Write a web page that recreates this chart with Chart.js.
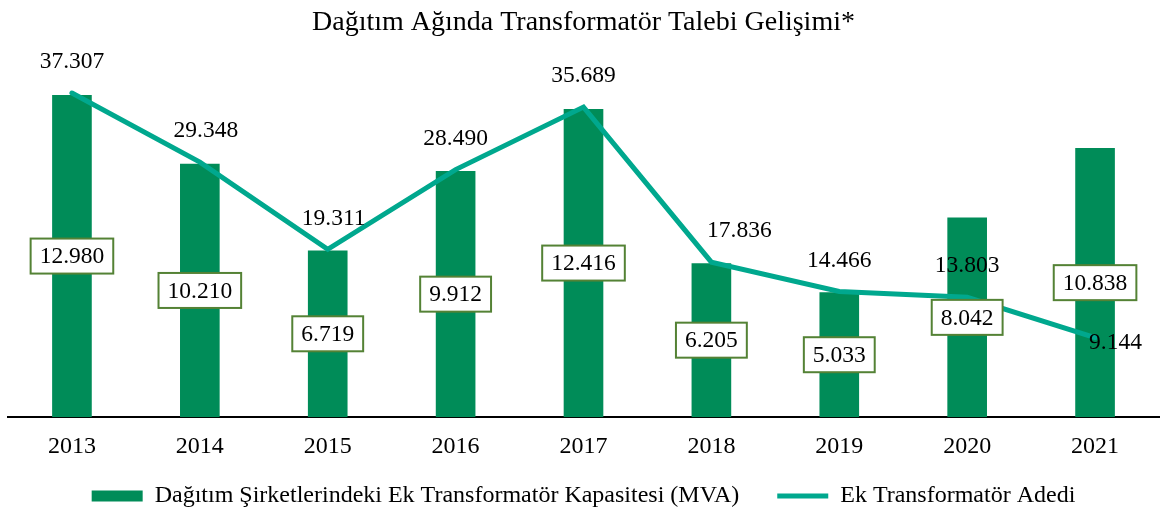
<!DOCTYPE html>
<html>
<head>
<meta charset="utf-8">
<script src="https://cdn.jsdelivr.net/npm/chart.js@4/dist/chart.umd.min.js"></script>
<style>
  html, body { margin: 0; padding: 0; background: #fff; }
  #wrap { width: 1163px; height: 516px; }
</style>
</head>
<body>
<div id="wrap"><canvas id="chart"></canvas></div>
<script>
// data
const years = ['2013', '2014', '2015', '2016', '2017', '2018', '2019', '2020', '2021'];
const capacityMVA = [12980, 10210, 6719, 9912, 12416, 6205, 5033, 8042, 10838];
const transformerCount = [37307, 29348, 19311, 28490, 35689, 17836, 14466, 13803, 9144];

const FONT = "'Liberation Serif', 'Times New Roman', serif";
const BAR_GREEN = '#008c58';
const LINE_TEAL = '#00a88e';

// Turkish number format: dot as thousands separator
function fmt(v) {
    return String(v).replace(/\B(?=(\d{3})+(?!\d))/g, '.');
}

// draw value labels: boxed labels in bar middles, plain labels above line points
const valueLabels = {
    id: 'valueLabels',
    afterDatasetsDraw(chart) {
        const ctx = chart.ctx;
        ctx.save();
        ctx.font = '23.5px ' + FONT;
        ctx.textBaseline = 'middle';

        // line labels
        const lineMeta = chart.getDatasetMeta(1);
        lineMeta.data.forEach((pt, i) => {
            const text = fmt(transformerCount[i]);
            ctx.fillStyle = '#000';
            if (i === lineMeta.data.length - 1) {
                ctx.textAlign = 'left';
                ctx.fillText(text, pt.x - 6, pt.y + 5);
            } else {
                ctx.textAlign = 'center';
                const dx = i === 5 ? 28 : (i === 2 || i === 1 ? 6 : 0);
                ctx.fillText(text, pt.x + dx, pt.y - 31);
            }
        });

        // bar labels
        const barMeta = chart.getDatasetMeta(0);
        barMeta.data.forEach((bar, i) => {
            const text = fmt(capacityMVA[i]);
            const w = ctx.measureText(text).width + 18;
            const h = 35;
            const cy = (bar.y + bar.base) / 2;
            ctx.fillStyle = '#fff';
            ctx.fillRect(bar.x - w / 2, cy - h / 2, w, h);
            ctx.strokeStyle = '#548235';
            ctx.lineWidth = 2;
            ctx.strokeRect(bar.x - w / 2, cy - h / 2, w, h);
            ctx.fillStyle = '#000';
            ctx.textAlign = 'center';
            ctx.fillText(text, bar.x, cy + 1);
        });
        ctx.restore();
    }
};

const chart = new Chart(document.getElementById('chart'), {
    data: {
        labels: years,
        datasets: [
            {
                type: 'bar',
                label: 'Dağıtım Şirketlerindeki Ek Transformatör Kapasitesi (MVA)\u2002\u2002 ',
                data: capacityMVA,
                backgroundColor: BAR_GREEN,
                borderWidth: 0,
                barPercentage: 0.31,
                categoryPercentage: 1,
                pointStyle: 'rect',
                yAxisID: 'y',
                order: 1,
            },
            {
                type: 'line',
                label: 'Ek Transformatör Adedi',
                data: transformerCount,
                borderColor: LINE_TEAL,
                backgroundColor: LINE_TEAL,
                borderWidth: 5,
                borderCapStyle: 'round',
                borderJoinStyle: 'miter',
                pointRadius: 0,
                pointStyle: 'line',
                tension: 0,
                yAxisID: 'y1',
                order: 0,
            },
        ],
    },
    options: {
        responsive: true,
        maintainAspectRatio: false,
        animation: false,
        layout: { padding: { left: 8, right: 4, top: 0, bottom: -2 } },
        plugins: {
            title: {
                display: true,
                text: 'Dağıtım Ağında Transformatör Talebi Gelişimi*',
                color: '#000',
                font: { family: FONT, size: 28, weight: 'normal' },
                padding: { top: 6, bottom: 30 },
            },
            legend: {
                position: 'bottom',
                labels: {
                    color: '#000',
                    font: { family: FONT, size: 24, lineHeight: 1 },
                    usePointStyle: true,
                    pointStyleWidth: 51,
                    boxHeight: 11,
                    padding: 8,
                    sort: (a, b) => a.datasetIndex - b.datasetIndex,
                },
            },
            tooltip: { enabled: false },
        },
        scales: {
            x: {
                offset: true,
                grid: { display: false, drawTicks: false },
                border: { display: true, color: '#000', width: 2 },
                ticks: {
                    color: '#000',
                    font: { family: FONT, size: 24 },
                    padding: 15,
                },
            },
            y: { display: false, min: 0, max: 14000 },
            y1: { display: false, min: 0, max: 40000 },
        },
    },
    plugins: [valueLabels],
});
</script>
</body>
</html>
